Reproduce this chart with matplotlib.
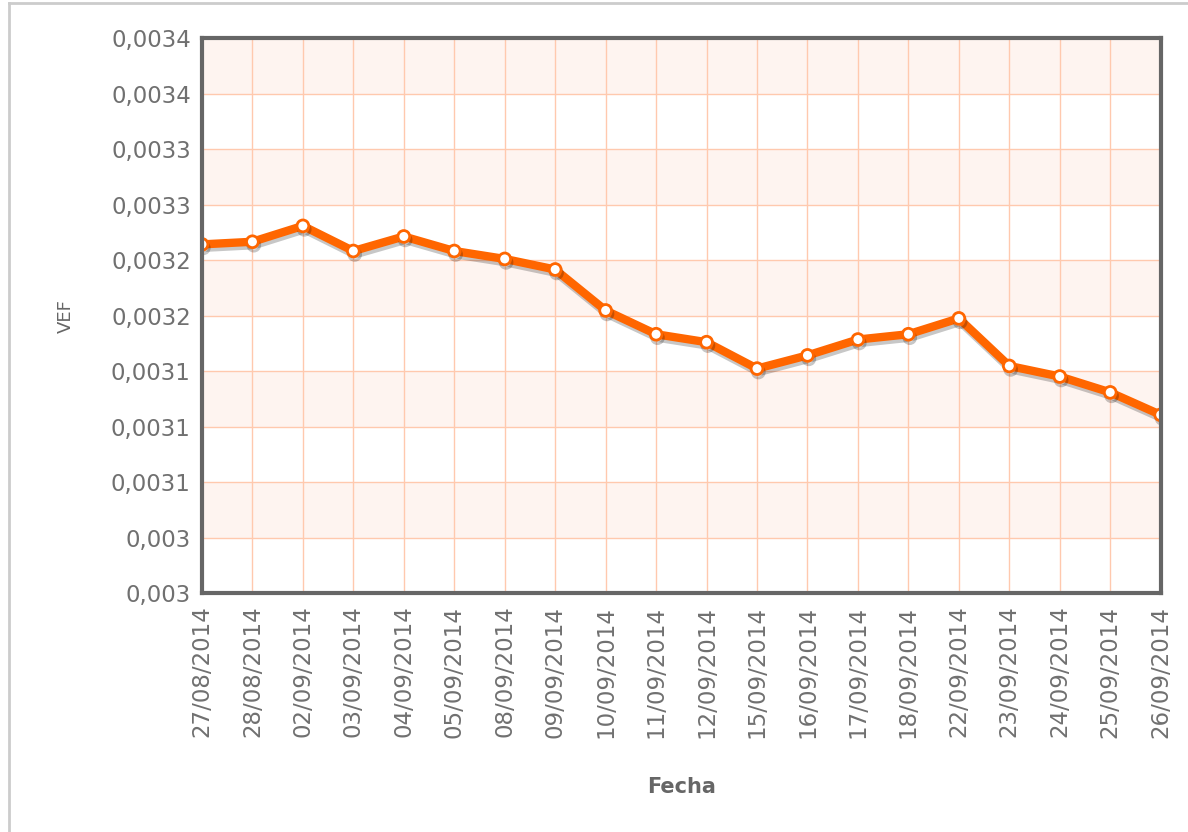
import matplotlib
matplotlib.use("Agg")
from matplotlib import pyplot as plt
from matplotlib import patheffects as pe
from matplotlib.ticker import FuncFormatter
import numpy as np

fechas = ["27/08/2014", "28/08/2014", "02/09/2014", "03/09/2014", "04/09/2014",
          "05/09/2014", "08/09/2014", "09/09/2014", "10/09/2014", "11/09/2014",
          "12/09/2014", "15/09/2014", "16/09/2014", "17/09/2014", "18/09/2014",
          "22/09/2014", "23/09/2014", "24/09/2014", "25/09/2014", "26/09/2014"]
vef = [0.003244, 0.003246, 0.003258, 0.003239, 0.003250,
       0.003239, 0.003233, 0.003225, 0.003194, 0.003176,
       0.003170, 0.003150, 0.003160, 0.003172, 0.003176,
       0.003188, 0.003152, 0.003144, 0.003132, 0.003115]
y_ticks = np.linspace(0.00298, 0.0034, 11)

gris = "#666666"
naranja = "#FF6600"
rejilla = "#FFC9AE"
banda = "#FEF4F0"

fig = plt.figure(figsize=(11.88, 8.32), dpi=100)
ax = fig.add_axes([0.170, 0.287, 0.807, 0.667])

# alternating bands
for i in range(len(y_ticks) - 1):
    if i % 2 == 1:
        ax.axhspan(y_ticks[i], y_ticks[i + 1], color=banda, zorder=0, lw=0)

x = np.arange(len(fechas))
ax.set_xlim(0, len(fechas) - 1)
ax.set_ylim(y_ticks[0], y_ticks[-1])
ax.set_xticks(x)
ax.set_xticklabels(fechas, rotation=90)
ax.set_yticks(y_ticks)


def fmt(v, pos):
    s = "%.4f" % v
    s = s.rstrip("0").rstrip(".")
    return s.replace(".", ",")


ax.yaxis.set_major_formatter(FuncFormatter(fmt))
ax.grid(True, color=rejilla, lw=1, zorder=1)
ax.set_axisbelow(True)

ax.plot(x, vef, color=naranja, lw=6, solid_joinstyle="round", zorder=3,
        marker="o", markersize=8.5, markerfacecolor="white",
        markeredgecolor=naranja, markeredgewidth=2,
        path_effects=[pe.SimpleLineShadow(offset=(1, -2.5), shadow_color="#000000", alpha=0.22),
                      pe.Normal()])

for s in ax.spines.values():
    s.set_color(gris)
    s.set_linewidth(3)
    s.set_zorder(4)

ax.tick_params(length=0, labelsize=16.5, labelcolor="#707070")
ax.tick_params(axis="x", pad=9)
ax.tick_params(axis="y", pad=8)

ax.set_ylabel("VEF", color=gris, fontsize=13, labelpad=26)
ax.set_xlabel("Fecha", color=gris, fontsize=15, fontweight="bold", labelpad=28)

# outer frame (top and left)
fig.add_artist(plt.Line2D([0.0075, 1.0], [0.9965, 0.9965], color="#CCCCCC", lw=2))
fig.add_artist(plt.Line2D([0.0075, 0.0075], [0.0, 0.9965], color="#CCCCCC", lw=2))

fig.savefig("out.png", dpi=100)
